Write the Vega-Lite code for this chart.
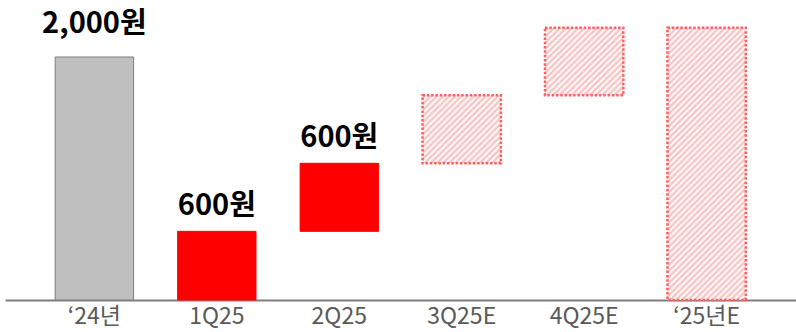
{
  "$schema": "https://vega.github.io/schema/vega-lite/v6.json",
  "autosize": "none",
  "width": 791,
  "height": 300,
  "padding": {"left": 5, "top": 0, "right": 0, "bottom": 32},
  "background": "#ffffff",
  "config": {"view": {"stroke": null}},
  "data": {
    "values": [
      {"cat": "‘24년", "start": 0, "end": 2000, "label": "2,000원", "kind": "base"},
      {"cat": "1Q25", "start": 0, "end": 565, "label": "600원", "kind": "actual"},
      {"cat": "2Q25", "start": 565, "end": 1125, "label": "600원", "kind": "actual"},
      {"cat": "3Q25E", "start": 1125, "end": 1685, "label": null, "kind": "forecast"},
      {"cat": "4Q25E", "start": 1685, "end": 2240, "label": null, "kind": "forecast"},
      {"cat": "‘25년E", "start": 0, "end": 2240, "label": null, "kind": "total"}
    ]
  },
  "encoding": {
    "x": {
      "field": "cat", "type": "nominal", "sort": null,
      "scale": {"paddingInner": 0.36, "paddingOuter": 0.41},
      "axis": {
        "title": null, "ticks": false, "labelAngle": 0,
        "labelFont": "Noto Sans CJK KR", "labelFontSize": 23, "labelColor": "#595959",
        "labelPadding": 5, "domainColor": "#7f7f7f", "domainWidth": 2
      }
    },
    "y": {"field": "end", "type": "quantitative", "scale": {"domain": [0, 2469], "nice": false}, "axis": null},
    "y2": {"field": "start"}
  },
  "layer": [
    {
      "transform": [{"filter": "datum.kind === 'base' || datum.kind === 'actual'"}],
      "mark": {"type": "bar", "strokeWidth": 1},
      "encoding": {
        "fill": {"field": "kind", "type": "nominal", "scale": {"domain": ["base", "actual"], "range": ["#bfbfbf", "#ff0000"]}, "legend": null},
        "stroke": {"field": "kind", "type": "nominal", "scale": {"domain": ["base", "actual"], "range": ["#7f7f7f", "#ff0000"]}, "legend": null}
      }
    },
    {
      "transform": [{"filter": "datum.kind === 'forecast'"}],
      "mark": {
        "type": "bar", "stroke": "#ff5f5f", "strokeWidth": 2.5, "strokeDash": [2.5, 1.8],
        "fill": {
          "gradient": "linear", "x1": 0, "y1": 0, "x2": 1.0635, "y2": 0.9272,
          "stops": [
            {"offset": 0, "color": "#ffffff"}, {"offset": 0.0208, "color": "#f6bcbc"},
            {"offset": 0.0417, "color": "#ffffff"}, {"offset": 0.0625, "color": "#f6bcbc"},
            {"offset": 0.0833, "color": "#ffffff"}, {"offset": 0.1042, "color": "#f6bcbc"},
            {"offset": 0.125, "color": "#ffffff"}, {"offset": 0.1458, "color": "#f6bcbc"},
            {"offset": 0.1667, "color": "#ffffff"}, {"offset": 0.1875, "color": "#f6bcbc"},
            {"offset": 0.2083, "color": "#ffffff"}, {"offset": 0.2292, "color": "#f6bcbc"},
            {"offset": 0.25, "color": "#ffffff"}, {"offset": 0.2708, "color": "#f6bcbc"},
            {"offset": 0.2917, "color": "#ffffff"}, {"offset": 0.3125, "color": "#f6bcbc"},
            {"offset": 0.3333, "color": "#ffffff"}, {"offset": 0.3542, "color": "#f6bcbc"},
            {"offset": 0.375, "color": "#ffffff"}, {"offset": 0.3958, "color": "#f6bcbc"},
            {"offset": 0.4167, "color": "#ffffff"}, {"offset": 0.4375, "color": "#f6bcbc"},
            {"offset": 0.4583, "color": "#ffffff"}, {"offset": 0.4792, "color": "#f6bcbc"},
            {"offset": 0.5, "color": "#ffffff"}, {"offset": 0.5208, "color": "#f6bcbc"},
            {"offset": 0.5417, "color": "#ffffff"}, {"offset": 0.5625, "color": "#f6bcbc"},
            {"offset": 0.5833, "color": "#ffffff"}, {"offset": 0.6042, "color": "#f6bcbc"},
            {"offset": 0.625, "color": "#ffffff"}, {"offset": 0.6458, "color": "#f6bcbc"},
            {"offset": 0.6667, "color": "#ffffff"}, {"offset": 0.6875, "color": "#f6bcbc"},
            {"offset": 0.7083, "color": "#ffffff"}, {"offset": 0.7292, "color": "#f6bcbc"},
            {"offset": 0.75, "color": "#ffffff"}, {"offset": 0.7708, "color": "#f6bcbc"},
            {"offset": 0.7917, "color": "#ffffff"}, {"offset": 0.8125, "color": "#f6bcbc"},
            {"offset": 0.8333, "color": "#ffffff"}, {"offset": 0.8542, "color": "#f6bcbc"},
            {"offset": 0.875, "color": "#ffffff"}, {"offset": 0.8958, "color": "#f6bcbc"},
            {"offset": 0.9167, "color": "#ffffff"}, {"offset": 0.9375, "color": "#f6bcbc"},
            {"offset": 0.9583, "color": "#ffffff"}, {"offset": 0.9792, "color": "#f6bcbc"},
            {"offset": 1, "color": "#ffffff"}
          ]
        }
      }
    },
    {
      "transform": [{"filter": "datum.kind === 'total'"}],
      "mark": {
        "type": "bar", "stroke": "#ff5f5f", "strokeWidth": 2.5, "strokeDash": [2.5, 1.8],
        "fill": {
          "gradient": "linear", "x1": 0, "y1": 0, "x2": 0.341, "y2": 1.189,
          "stops": [
            {"offset": 0, "color": "#ffffff"}, {"offset": 0.0086, "color": "#f6bcbc"},
            {"offset": 0.0172, "color": "#ffffff"}, {"offset": 0.0259, "color": "#f6bcbc"},
            {"offset": 0.0345, "color": "#ffffff"}, {"offset": 0.0431, "color": "#f6bcbc"},
            {"offset": 0.0517, "color": "#ffffff"}, {"offset": 0.0603, "color": "#f6bcbc"},
            {"offset": 0.069, "color": "#ffffff"}, {"offset": 0.0776, "color": "#f6bcbc"},
            {"offset": 0.0862, "color": "#ffffff"}, {"offset": 0.0948, "color": "#f6bcbc"},
            {"offset": 0.1034, "color": "#ffffff"}, {"offset": 0.1121, "color": "#f6bcbc"},
            {"offset": 0.1207, "color": "#ffffff"}, {"offset": 0.1293, "color": "#f6bcbc"},
            {"offset": 0.1379, "color": "#ffffff"}, {"offset": 0.1466, "color": "#f6bcbc"},
            {"offset": 0.1552, "color": "#ffffff"}, {"offset": 0.1638, "color": "#f6bcbc"},
            {"offset": 0.1724, "color": "#ffffff"}, {"offset": 0.181, "color": "#f6bcbc"},
            {"offset": 0.1897, "color": "#ffffff"}, {"offset": 0.1983, "color": "#f6bcbc"},
            {"offset": 0.2069, "color": "#ffffff"}, {"offset": 0.2155, "color": "#f6bcbc"},
            {"offset": 0.2241, "color": "#ffffff"}, {"offset": 0.2328, "color": "#f6bcbc"},
            {"offset": 0.2414, "color": "#ffffff"}, {"offset": 0.25, "color": "#f6bcbc"},
            {"offset": 0.2586, "color": "#ffffff"}, {"offset": 0.2672, "color": "#f6bcbc"},
            {"offset": 0.2759, "color": "#ffffff"}, {"offset": 0.2845, "color": "#f6bcbc"},
            {"offset": 0.2931, "color": "#ffffff"}, {"offset": 0.3017, "color": "#f6bcbc"},
            {"offset": 0.3103, "color": "#ffffff"}, {"offset": 0.319, "color": "#f6bcbc"},
            {"offset": 0.3276, "color": "#ffffff"}, {"offset": 0.3362, "color": "#f6bcbc"},
            {"offset": 0.3448, "color": "#ffffff"}, {"offset": 0.3534, "color": "#f6bcbc"},
            {"offset": 0.3621, "color": "#ffffff"}, {"offset": 0.3707, "color": "#f6bcbc"},
            {"offset": 0.3793, "color": "#ffffff"}, {"offset": 0.3879, "color": "#f6bcbc"},
            {"offset": 0.3966, "color": "#ffffff"}, {"offset": 0.4052, "color": "#f6bcbc"},
            {"offset": 0.4138, "color": "#ffffff"}, {"offset": 0.4224, "color": "#f6bcbc"},
            {"offset": 0.431, "color": "#ffffff"}, {"offset": 0.4397, "color": "#f6bcbc"},
            {"offset": 0.4483, "color": "#ffffff"}, {"offset": 0.4569, "color": "#f6bcbc"},
            {"offset": 0.4655, "color": "#ffffff"}, {"offset": 0.4741, "color": "#f6bcbc"},
            {"offset": 0.4828, "color": "#ffffff"}, {"offset": 0.4914, "color": "#f6bcbc"},
            {"offset": 0.5, "color": "#ffffff"}, {"offset": 0.5086, "color": "#f6bcbc"},
            {"offset": 0.5172, "color": "#ffffff"}, {"offset": 0.5259, "color": "#f6bcbc"},
            {"offset": 0.5345, "color": "#ffffff"}, {"offset": 0.5431, "color": "#f6bcbc"},
            {"offset": 0.5517, "color": "#ffffff"}, {"offset": 0.5603, "color": "#f6bcbc"},
            {"offset": 0.569, "color": "#ffffff"}, {"offset": 0.5776, "color": "#f6bcbc"},
            {"offset": 0.5862, "color": "#ffffff"}, {"offset": 0.5948, "color": "#f6bcbc"},
            {"offset": 0.6034, "color": "#ffffff"}, {"offset": 0.6121, "color": "#f6bcbc"},
            {"offset": 0.6207, "color": "#ffffff"}, {"offset": 0.6293, "color": "#f6bcbc"},
            {"offset": 0.6379, "color": "#ffffff"}, {"offset": 0.6466, "color": "#f6bcbc"},
            {"offset": 0.6552, "color": "#ffffff"}, {"offset": 0.6638, "color": "#f6bcbc"},
            {"offset": 0.6724, "color": "#ffffff"}, {"offset": 0.681, "color": "#f6bcbc"},
            {"offset": 0.6897, "color": "#ffffff"}, {"offset": 0.6983, "color": "#f6bcbc"},
            {"offset": 0.7069, "color": "#ffffff"}, {"offset": 0.7155, "color": "#f6bcbc"},
            {"offset": 0.7241, "color": "#ffffff"}, {"offset": 0.7328, "color": "#f6bcbc"},
            {"offset": 0.7414, "color": "#ffffff"}, {"offset": 0.75, "color": "#f6bcbc"},
            {"offset": 0.7586, "color": "#ffffff"}, {"offset": 0.7672, "color": "#f6bcbc"},
            {"offset": 0.7759, "color": "#ffffff"}, {"offset": 0.7845, "color": "#f6bcbc"},
            {"offset": 0.7931, "color": "#ffffff"}, {"offset": 0.8017, "color": "#f6bcbc"},
            {"offset": 0.8103, "color": "#ffffff"}, {"offset": 0.819, "color": "#f6bcbc"},
            {"offset": 0.8276, "color": "#ffffff"}, {"offset": 0.8362, "color": "#f6bcbc"},
            {"offset": 0.8448, "color": "#ffffff"}, {"offset": 0.8534, "color": "#f6bcbc"},
            {"offset": 0.8621, "color": "#ffffff"}, {"offset": 0.8707, "color": "#f6bcbc"},
            {"offset": 0.8793, "color": "#ffffff"}, {"offset": 0.8879, "color": "#f6bcbc"},
            {"offset": 0.8966, "color": "#ffffff"}, {"offset": 0.9052, "color": "#f6bcbc"},
            {"offset": 0.9138, "color": "#ffffff"}, {"offset": 0.9224, "color": "#f6bcbc"},
            {"offset": 0.931, "color": "#ffffff"}, {"offset": 0.9397, "color": "#f6bcbc"},
            {"offset": 0.9483, "color": "#ffffff"}, {"offset": 0.9569, "color": "#f6bcbc"},
            {"offset": 0.9655, "color": "#ffffff"}, {"offset": 0.9741, "color": "#f6bcbc"},
            {"offset": 0.9828, "color": "#ffffff"}, {"offset": 0.9914, "color": "#f6bcbc"},
            {"offset": 1, "color": "#ffffff"}
          ]
        }
      }
    },
    {
      "transform": [{"filter": "datum.kind === 'base'"}],
      "mark": {"type": "text", "font": "Noto Sans CJK KR", "fontWeight": "bold", "fontSize": 29, "color": "#000000", "baseline": "alphabetic", "dy": -24},
      "encoding": {"text": {"field": "label"}, "y2": null}
    },
    {
      "transform": [{"filter": "datum.kind === 'actual'"}],
      "mark": {"type": "text", "font": "Noto Sans CJK KR", "fontWeight": "bold", "fontSize": 29, "color": "#000000", "baseline": "alphabetic", "dy": -16},
      "encoding": {"text": {"field": "label"}, "y2": null}
    }
  ]
}
